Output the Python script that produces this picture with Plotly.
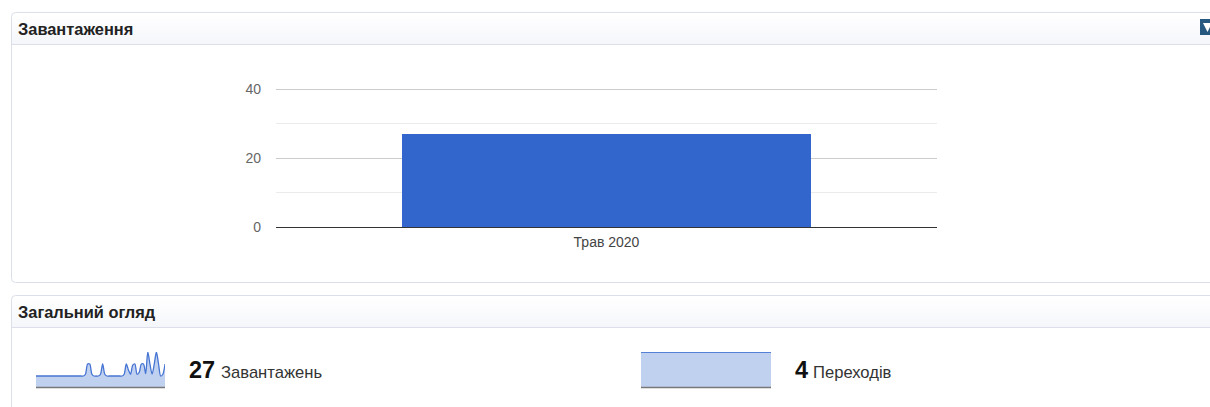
import plotly.graph_objects as go

W, H = 1210, 407

# ---- data ----
months = ["Трав 2020"]
downloads_by_month = [27]
y_ticks = [0, 20, 40]
spark_downloads = [0, 0, 0, 0, 0, 0, 0, 0, 0, 0, 0, 0, 0, 0, 0, 0, 0, 0, 0, 0, 0, 0, 0,
                   0.3, 2, 2, 0.3, 0, 0, 0, 0.3, 2, 0.3, 0, 0, 0, 0, 0, 0, 0, 0, 0.3,
                   2, 1, 0.3, 1.8, 2, 0.3, 0.6, 2, 2, 0.4, 4, 2, 0.3, 2, 4, 2, 0, 0.3, 2]
spark_referrals = [1, 1, 1, 1, 1, 1]
total_downloads = "27"
total_referrals = "4"
label_downloads = "Завантажень"
label_referrals = "Переходів"
panel_title_1 = "Завантаження"
panel_title_2 = "Загальний огляд"

FONT = "Liberation Sans"
BLUE = "#3366cc"
SPARK_LINE = "#4674d4"
FILL = "rgba(51,102,204,0.31)"


def px(x):
    return x / W


def py(y):
    return 1 - y / H


def dom_x(a, b):
    return [px(a), px(b)]


def dom_y(top, bottom):
    return [py(bottom), py(top)]


fig = go.Figure()

# main column chart
fig.add_trace(go.Bar(x=months, y=downloads_by_month, marker=dict(color=BLUE, line_width=0),
                     width=0.618, xaxis="x", yaxis="y", showlegend=False))

# sparkline 1
s1x = list(range(len(spark_downloads)))
fig.add_trace(go.Scatter(x=s1x, y=[-1.83] * len(s1x), mode="lines", line=dict(width=0),
                         xaxis="x2", yaxis="y2", showlegend=False))
fig.add_trace(go.Scatter(x=s1x, y=spark_downloads, mode="lines",
                         line=dict(color=SPARK_LINE, width=1.3, shape="spline", smoothing=0.8),
                         fill="tonexty", fillcolor=FILL, xaxis="x2", yaxis="y2", showlegend=False))

# sparkline 2
s2x = list(range(len(spark_referrals)))
fig.add_trace(go.Scatter(x=s2x, y=[0] * len(s2x), mode="lines", line=dict(width=0),
                         xaxis="x3", yaxis="y3", showlegend=False))
fig.add_trace(go.Scatter(x=s2x, y=spark_referrals, mode="lines",
                         line=dict(color=BLUE, width=1.3),
                         fill="tonexty", fillcolor=FILL, xaxis="x3", yaxis="y3", showlegend=False))

shapes = []
BORDER = "#dcdfea"


def panel(top, bottom, header_bottom):
    r = 4
    left = 11.5
    right = 1215
    n = header_bottom - top
    for i in range(n):
        t = i / max(n - 1, 1)
        c = (255 - int(10 * t), 255 - int(9 * t), 255 - int(5 * t))
        shapes.append(dict(type="rect", xref="paper", yref="paper", layer="below",
                           x0=px(left), x1=px(right), y0=py(top + i + 1), y1=py(top + i),
                           fillcolor=f"rgb({c[0]},{c[1]},{c[2]})", line_width=0))
    shapes.append(dict(type="line", xref="paper", yref="paper", layer="below",
                       x0=px(left), x1=px(right), y0=py(header_bottom + .5), y1=py(header_bottom + .5),
                       line=dict(color=BORDER, width=1)))
    path = (f"M {px(right)} {py(top + .5)} L {px(left + r)} {py(top + .5)} "
            f"Q {px(left)} {py(top + .5)} {px(left)} {py(top + .5 + r)} ")
    if bottom is None:
        path += f"L {px(left)} {py(H + 5)}"
    else:
        path += (f"L {px(left)} {py(bottom - r)} Q {px(left)} {py(bottom)} {px(left + r)} {py(bottom)} "
                 f"L {px(right)} {py(bottom)}")
    shapes.append(dict(type="path", xref="paper", yref="paper", layer="below", path=path,
                       line=dict(color=BORDER, width=1)))


panel(12, 282.5, 44)
panel(295, None, 327)

# collapse icon at top-right
shapes.append(dict(type="rect", xref="paper", yref="paper", x0=px(1200), x1=px(1214),
                   y0=py(35), y1=py(19), fillcolor="#27587f", line_width=0))
shapes.append(dict(type="path", xref="paper", yref="paper",
                   path=f"M {px(1203)} {py(23)} L {px(1212)} {py(23)} L {px(1207.5)} {py(32)} Z",
                   fillcolor="#ffffff", line_width=0))

annotations = [
    dict(text=f"<b>{panel_title_1}</b>", x=px(15.5), y=py(28.5), font=dict(size=16.4, color="#222222")),
    dict(text=f"<b>{panel_title_2}</b>", x=px(15.5), y=py(311.5), font=dict(size=16.4, color="#222222")),
    dict(text=f"<b>{total_downloads}</b>", x=px(187), y=py(370), font=dict(size=23.5, color="#111111")),
    dict(text=label_downloads, x=px(219), y=py(372), font=dict(size=16.6, color="#333333")),
    dict(text=f"<b>{total_referrals}</b>", x=px(793), y=py(370), font=dict(size=23.5, color="#111111")),
    dict(text=label_referrals, x=px(811), y=py(372), font=dict(size=16.6, color="#333333")),
]
for a in annotations:
    a.update(xref="paper", yref="paper", xanchor="left", yanchor="middle", showarrow=False)

hidden = dict(visible=False, fixedrange=True)
fig.update_layout(
    width=W, height=H, autosize=False,
    margin=dict(l=0, r=0, t=0, b=0, autoexpand=False),
    paper_bgcolor="white", plot_bgcolor="rgba(0,0,0,0)",
    font=dict(family=FONT, size=13, color="#444444"),
    shapes=shapes, annotations=annotations,
    bargap=0,
    xaxis=dict(domain=dom_x(276, 937), type="category", anchor="y", showgrid=False, ticks="",
               showline=False, tickfont=dict(size=14, color="#444444"), ticklabelstandoff=5,
               fixedrange=True),
    # the range runs a little past the top tick so that its gridline is kept
    yaxis=dict(domain=dom_y(86.06, 227), range=[0, 41], tickvals=y_ticks, anchor="x",
               gridcolor="#cccccc", gridwidth=1, zeroline=True, zerolinecolor="#333333",
               zerolinewidth=1, showline=False, ticks="", ticklabelstandoff=14,
               tickfont=dict(size=14, color="#666666"), fixedrange=True,
               minor=dict(tickvals=[10, 30], showgrid=True, gridcolor="#ebebeb", gridwidth=1)),
    xaxis2=dict(domain=dom_x(36, 165), range=[0, len(spark_downloads) - 1], anchor="y2", **hidden),
    yaxis2=dict(domain=dom_y(352, 387), range=[-1.83, 4], anchor="x2", **hidden),
    xaxis3=dict(domain=dom_x(641, 771), range=[0, len(spark_referrals) - 1], anchor="y3", **hidden),
    yaxis3=dict(domain=dom_y(352, 387), range=[0, 1], anchor="x3", **hidden),
)
for a, b in ((36, 165), (641, 771)):
    fig.add_shape(type="line", xref="paper", yref="paper", x0=px(a), x1=px(b), y0=py(387.5), y1=py(387.5),
                  line=dict(color="#777777", width=1.5))

fig.write_html("out.html", config=dict(displayModeBar=False),
               post_script="document.body.style.margin='0';document.body.style.overflow='hidden';")
